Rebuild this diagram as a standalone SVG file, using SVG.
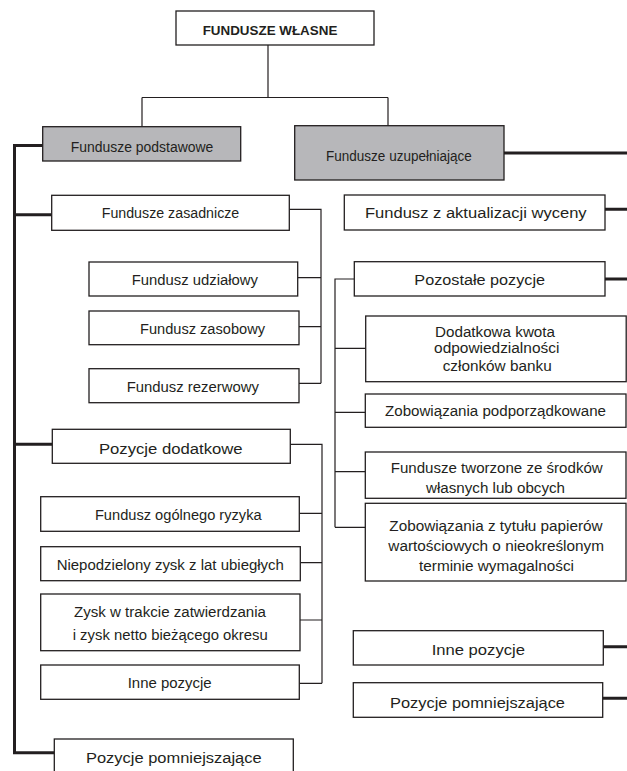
<svg xmlns="http://www.w3.org/2000/svg" width="627" height="771" viewBox="0 0 627 771">
<style>
.bg{fill:#ffffff}
.box{fill:#ffffff;stroke:#231f20;stroke-width:1.3}
.gray{fill:#b7b7ba}
.t{font-family:"Liberation Sans",Arial,sans-serif;font-size:14px;fill:#231f20;text-anchor:middle}
.h{font-size:15.5px}
.b{font-weight:bold;font-size:13.5px}
.thin{fill:none;stroke:#231f20;stroke-width:1.2}
.thick{fill:none;stroke:#231f20;stroke-width:3}
</style>
<rect class="bg" x="0" y="0" width="627" height="771"/>
<g id="connectors">
<path class="thin" d="M268 45 V97.5 M142 97.5 H388 M142 97.5 V126.7 M388 97.5 V125.7"/>
<path class="thin" d="M289.3 209.3 H321 V383.3 M297.7 277.7 H321 M299 326.7 H321 M299 383.3 H321"/>
<path class="thin" d="M290.3 444.3 H322 V683.3 M299.3 513.3 H322 M300.3 562.7 H322 M300 620 H322 M299.3 683.3 H322"/>
<path class="thin" d="M354.3 279 H335 V527.3 M335 348.3 H365.7 M335 412.3 H365.3 M335 471.7 H365.3 M335 527.3 H365.3"/>
<path class="thick" d="M42.7 145.5 H14.5 V752.7 H54.3 M14.5 214.7 H51.7 M14.5 444.3 H52.3"/>
<path class="thick" d="M504 153 H627 M605 209.3 H627 M605 279 H627 M603.3 646.7 H627 M602.7 698.3 H627"/>
</g>
<g id="fundusze-wlasne">
<rect class="box" x="176" y="11" width="198" height="34"/>
<text class="t b" x="270" y="34.5" textLength="134.7" lengthAdjust="spacingAndGlyphs">FUNDUSZE WŁASNE</text>
</g>
<g id="fundusze-podstawowe">
<rect class="box gray" x="42.7" y="126.7" width="198" height="34.3"/>
<text class="t h" x="142" y="151.5" textLength="142.6" lengthAdjust="spacingAndGlyphs">Fundusze podstawowe</text>
</g>
<g id="fundusze-uzupelniajace">
<rect class="box gray" x="294.7" y="125.7" width="209.3" height="54.3"/>
<text class="t h" x="398.9" y="161" textLength="145.7" lengthAdjust="spacingAndGlyphs">Fundusze uzupełniające</text>
</g>
<g id="fundusze-zasadnicze">
<rect class="box" x="51.7" y="195.3" width="237.6" height="35"/>
<text class="t" x="170.5" y="218.3" textLength="137.6" lengthAdjust="spacingAndGlyphs">Fundusze zasadnicze</text>
</g>
<g id="fundusz-udzialowy">
<rect class="box" x="89" y="262" width="208.7" height="34"/>
<text class="t" x="194.8" y="284.7" textLength="126.3" lengthAdjust="spacingAndGlyphs">Fundusz udziałowy</text>
</g>
<g id="fundusz-zasobowy">
<rect class="box" x="89" y="311" width="210" height="33.7"/>
<text class="t" x="202.5" y="334" textLength="125" lengthAdjust="spacingAndGlyphs">Fundusz zasobowy</text>
</g>
<g id="fundusz-rezerwowy">
<rect class="box" x="89" y="368.7" width="210" height="34"/>
<text class="t" x="192.8" y="391.7" textLength="132.3" lengthAdjust="spacingAndGlyphs">Fundusz rezerwowy</text>
</g>
<g id="pozycje-dodatkowe">
<rect class="box" x="52.3" y="429.3" width="238" height="34"/>
<text class="t h" x="170.8" y="454" textLength="143.7" lengthAdjust="spacingAndGlyphs">Pozycje dodatkowe</text>
</g>
<g id="fundusz-ogolnego-ryzyka">
<rect class="box" x="40.7" y="496.7" width="258.6" height="34.6"/>
<text class="t" x="178.3" y="520" textLength="166.7" lengthAdjust="spacingAndGlyphs">Fundusz ogólnego ryzyka</text>
</g>
<g id="niepodzielony-zysk">
<rect class="box" x="40.7" y="546.7" width="259.6" height="34"/>
<text class="t" x="170.3" y="570" textLength="227.3" lengthAdjust="spacingAndGlyphs">Niepodzielony zysk z lat ubiegłych</text>
</g>
<g id="zysk-w-trakcie">
<rect class="box" x="40.7" y="594" width="259.3" height="56.7"/>
<text class="t" x="170" y="617.3" textLength="192" lengthAdjust="spacingAndGlyphs">Zysk w trakcie zatwierdzania</text>
<text class="t" x="170.2" y="640" textLength="195" lengthAdjust="spacingAndGlyphs">i zysk netto bieżącego okresu</text>
</g>
<g id="inne-pozycje-lewe">
<rect class="box" x="40.7" y="665" width="258.6" height="34.3"/>
<text class="t" x="169.7" y="687.7" textLength="84" lengthAdjust="spacingAndGlyphs">Inne pozycje</text>
</g>
<g id="pozycje-pomniejszajace-lewe">
<rect class="box" x="54.3" y="739" width="239" height="40"/>
<text class="t h" x="173.8" y="763.3" textLength="175.7" lengthAdjust="spacingAndGlyphs">Pozycje pomniejszające</text>
</g>
<g id="fundusz-z-aktualizacji">
<rect class="box" x="344.3" y="195" width="260.7" height="35"/>
<text class="t h" x="475.8" y="218.3" textLength="221.7" lengthAdjust="spacingAndGlyphs">Fundusz z aktualizacji wyceny</text>
</g>
<g id="pozostale-pozycje">
<rect class="box" x="354.3" y="261.7" width="250.7" height="34.3"/>
<text class="t h" x="479.7" y="285" textLength="130.7" lengthAdjust="spacingAndGlyphs">Pozostałe pozycje</text>
</g>
<g id="dodatkowa-kwota">
<rect class="box" x="365.7" y="316" width="260.5" height="65.7"/>
<text class="t" x="495" y="336.7" textLength="120" lengthAdjust="spacingAndGlyphs">Dodatkowa kwota</text>
<text class="t" x="496.7" y="353.3" textLength="125.3" lengthAdjust="spacingAndGlyphs">odpowiedzialności</text>
<text class="t" x="497.2" y="370.7" textLength="109" lengthAdjust="spacingAndGlyphs">członków banku</text>
</g>
<g id="zobowiazania-podporzadkowane">
<rect class="box" x="365.3" y="394" width="260.7" height="33.3"/>
<text class="t" x="495.5" y="416" textLength="221" lengthAdjust="spacingAndGlyphs">Zobowiązania podporządkowane</text>
</g>
<g id="fundusze-tworzone">
<rect class="box" x="365.3" y="452" width="260.7" height="46.3"/>
<text class="t" x="496.7" y="473.3" textLength="212" lengthAdjust="spacingAndGlyphs">Fundusze tworzone ze środków</text>
<text class="t" x="495.5" y="493.3" textLength="139" lengthAdjust="spacingAndGlyphs">własnych lub obcych</text>
</g>
<g id="zobowiazania-z-tytulu">
<rect class="box" x="365.3" y="503.3" width="260.7" height="77.7"/>
<text class="t" x="496" y="530.7" textLength="213.3" lengthAdjust="spacingAndGlyphs">Zobowiązania z tytułu papierów</text>
<text class="t" x="496.2" y="550.7" textLength="215.7" lengthAdjust="spacingAndGlyphs">wartościowych o nieokreślonym</text>
<text class="t" x="496.5" y="570.7" textLength="155" lengthAdjust="spacingAndGlyphs">terminie wymagalności</text>
</g>
<g id="inne-pozycje-prawe">
<rect class="box" x="353.3" y="630.7" width="250" height="34.3"/>
<text class="t h" x="478.3" y="655" textLength="93.3" lengthAdjust="spacingAndGlyphs">Inne pozycje</text>
</g>
<g id="pozycje-pomniejszajace-prawe">
<rect class="box" x="353.3" y="682.7" width="249.4" height="34.6"/>
<text class="t h" x="477.5" y="708.3" textLength="175" lengthAdjust="spacingAndGlyphs">Pozycje pomniejszające</text>
</g>
</svg>
